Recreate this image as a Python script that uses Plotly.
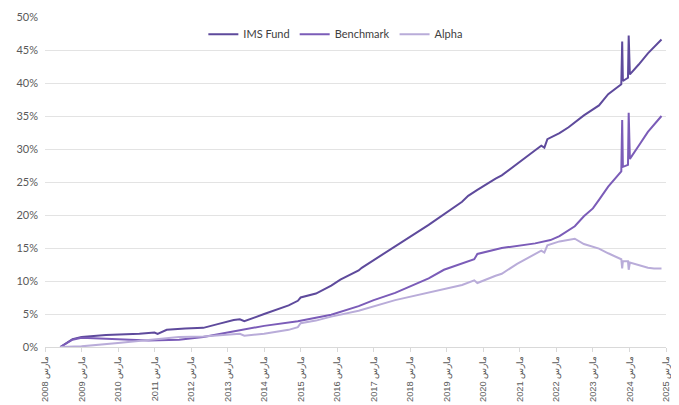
import plotly.graph_objects as go

# ---- data (percent) ----
ims_dates = ["2008-08-01","2008-12-01","2009-03-01","2009-11-01","2010-10-01","2011-03-01","2011-04-01",
             "2011-07-01","2012-01-01","2012-07-01","2012-12-01","2013-05-01","2013-07-01","2013-08-15",
             "2014-03-01","2014-11-01","2015-02-01","2015-03-01","2015-08-01","2016-01-01","2016-04-01",
             "2016-10-01","2016-11-01","2017-10-01","2018-09-01","2019-08-01","2019-10-01","2020-01-01",
             "2020-03-01","2020-07-01","2020-09-01","2021-02-01","2021-08-01","2021-10-01","2021-11-01",
             "2021-12-01","2022-04-01","2022-07-01","2022-12-01","2023-05-01","2023-08-01","2023-12-10",
             "2023-12-19","2023-12-26","2024-02-15","2024-02-22","2024-03-05","2024-06-01","2024-09-01",
             "2025-01-15"]
ims_vals = [0.0,1.2,1.5,1.8,2.0,2.2,2.0,
            2.6,2.8,2.9,3.5,4.1,4.2,3.9,
            5.0,6.3,7.0,7.5,8.1,9.3,10.2,
            11.6,12.0,15.2,18.5,22.0,22.9,23.8,
            24.4,25.5,26.0,27.8,29.8,30.5,30.2,
            31.5,32.4,33.3,35.1,36.6,38.3,39.8,
            46.3,40.3,40.8,47.2,41.3,42.8,44.5,
            46.6]

bm_dates = ["2008-08-01","2008-12-01","2009-03-01","2010-03-01","2011-01-01","2011-11-01","2012-07-01",
            "2013-03-01","2014-03-01","2015-02-01","2016-01-01","2016-10-01","2017-03-01","2017-10-01",
            "2018-03-01","2018-09-01","2019-02-01","2019-08-01","2019-12-01","2020-01-01","2020-07-01",
            "2020-09-01","2021-08-01","2022-01-01","2022-04-01","2022-07-01","2022-09-01","2022-12-01",
            "2023-03-01","2023-05-01","2023-08-01","2023-12-10","2023-12-19","2023-12-26","2024-02-15",
            "2024-02-22","2024-03-05","2024-06-01","2024-09-01","2025-01-15"]
bm_vals = [0.0,1.1,1.4,1.2,1.0,1.1,1.5,
           2.2,3.2,3.9,4.9,6.2,7.1,8.2,
           9.2,10.4,11.7,12.7,13.3,14.1,14.7,
           15.0,15.7,16.2,16.8,17.7,18.3,19.8,
           21.0,22.3,24.3,26.6,34.4,27.3,27.6,
           35.5,28.5,30.5,32.6,35.0]

al_dates = ["2008-08-01","2009-03-01","2010-03-01","2011-01-01","2011-11-01","2012-07-01","2013-07-01",
            "2013-08-15","2014-03-01","2014-11-01","2015-02-01","2015-03-01","2015-08-01","2016-01-01",
            "2016-10-01","2017-10-01","2018-09-01","2019-08-01","2019-12-01","2020-01-01","2020-07-01",
            "2020-09-01","2021-02-01","2021-10-01","2021-11-01","2021-12-01","2022-04-01","2022-09-01",
            "2022-12-01","2023-05-01","2023-08-01","2023-12-10","2023-12-19","2023-12-26","2024-02-15",
            "2024-02-22","2024-03-05","2024-06-01","2024-09-01","2024-11-01","2025-01-15"]
al_vals = [0.0,0.1,0.6,1.0,1.5,1.6,2.0,
           1.7,2.0,2.6,3.0,3.6,4.0,4.6,
           5.5,7.1,8.3,9.4,10.1,9.7,10.8,
           11.1,12.6,14.6,14.3,15.4,16.0,16.4,
           15.6,14.9,14.2,13.3,11.9,13.0,13.0,
           11.7,12.8,12.4,12.0,11.9,11.9]

years = list(range(2008, 2026))
tick_vals = [f"{y}-03-01" for y in years]
tick_text = [f"{y} مارس" for y in years]
y_ticks = list(range(0, 51, 5))

colors = {"IMS Fund": "#5e4a9c", "Benchmark": "#7b5cb8", "Alpha": "#b9acd9"}

fig = go.Figure()
fig.add_trace(go.Scatter(x=ims_dates, y=ims_vals, mode="lines", name="IMS Fund",
                         line=dict(color=colors["IMS Fund"], width=2)))
fig.add_trace(go.Scatter(x=bm_dates, y=bm_vals, mode="lines", name="Benchmark",
                         line=dict(color=colors["Benchmark"], width=2)))
fig.add_trace(go.Scatter(x=al_dates, y=al_vals, mode="lines", name="Alpha",
                         line=dict(color=colors["Alpha"], width=2)))

# page body has an 8px margin, so the figure is sized to fit the 679x405 window
fig.update_layout(
    width=671, height=397,
    margin=dict(l=37, r=13, t=9, b=58, autoexpand=False),
    paper_bgcolor="white", plot_bgcolor="white",
    showlegend=True,
    legend=dict(orientation="h", x=0.255, xanchor="left", y=0.948, yanchor="middle",
                font=dict(family="Lato", size=11, color="#404040"),
                bgcolor="rgba(0,0,0,0)", itemwidth=30),
    xaxis=dict(type="date", range=["2008-03-01", "2025-03-01"], automargin=False,
               tickmode="array", tickvals=tick_vals, ticktext=tick_text,
               tickangle=-90, tickfont=dict(family="Liberation Sans", size=9.3, color="#595959"),
               showgrid=False, showline=True, linecolor="#d9d9d9", linewidth=1,
               ticks="outside", ticklen=4, tickcolor="#d9d9d9", zeroline=False),
    yaxis=dict(range=[0, 50], automargin=False, tickmode="array", tickvals=y_ticks,
               ticktext=[f"{v}%" for v in y_ticks],
               tickfont=dict(family="Lato", size=11, color="#595959"),
               showgrid=True, gridcolor="#e3e3e3", gridwidth=1,
               zeroline=False, showline=False, ticks="", ticklabelstandoff=6),
)

fig.write_html("out.html")
